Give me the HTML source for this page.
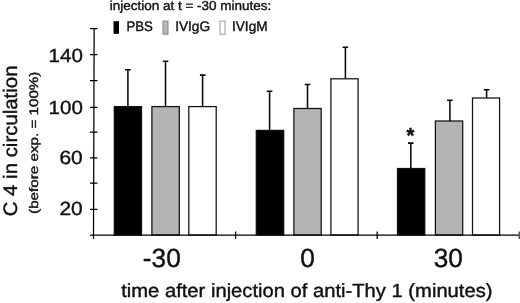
<!DOCTYPE html>
<html><head><meta charset="utf-8">
<style>
html,body{margin:0;padding:0;background:#fff;}
body{width:520px;height:303px;overflow:hidden;}
svg{display:block;will-change:transform;}
text{text-rendering:geometricPrecision;}
text{font-family:"Liberation Sans",Arial,Helvetica,sans-serif;fill:#111;stroke:#111;stroke-width:0.4px;}
</style></head><body>
<svg width="520" height="303" viewBox="0 0 520 303">

<!-- title & legend -->
<text x="109.7" y="10.1" font-size="13" textLength="161.7" lengthAdjust="spacingAndGlyphs" stroke-width="0.15">injection at t = -30 minutes:</text>
<rect x="113.5" y="21.2" width="5.5" height="12.6" fill="#000"/>
<text x="126.4" y="31" font-size="13.8" textLength="26.4" lengthAdjust="spacingAndGlyphs" stroke-width="0.15">PBS</text>
<rect x="163" y="21.1" width="5" height="13.1" fill="#b8b8b8" stroke="#888" stroke-width="1"/>
<text x="175.2" y="31" font-size="13.8" textLength="34.9" lengthAdjust="spacingAndGlyphs" stroke-width="0.15">IVIgG</text>
<rect x="220" y="21.1" width="5" height="13.1" fill="#fff" stroke="#999" stroke-width="1"/>
<text x="232" y="31" font-size="13.8" textLength="35.6" lengthAdjust="spacingAndGlyphs" stroke-width="0.15">IVIgM</text>
<!-- bars -->
<g stroke="#111" stroke-width="1.25">
<rect x="114.3" y="106.6" width="27.2" height="128.4" fill="#000"/>
<rect x="151.9" y="106.6" width="27.4" height="128.4" fill="#b4b4b4"/>
<rect x="188.8" y="106.6" width="27.4" height="128.4" fill="#fff"/>
<rect x="256.3" y="130.4" width="27.4" height="104.6" fill="#000"/>
<rect x="293.9" y="108.5" width="27.3" height="126.5" fill="#b4b4b4"/>
<rect x="330.9" y="78.8" width="27.2" height="156.2" fill="#fff"/>
<rect x="397.5" y="168.5" width="27.3" height="66.5" fill="#000"/>
<rect x="435.4" y="121" width="27.3" height="114" fill="#b4b4b4"/>
<rect x="472.5" y="98" width="27.1" height="137" fill="#fff"/>
</g>
<!-- error bars -->
<g stroke="#0a0a0a" stroke-width="1.55" fill="none">
<path d="M127.9 106V69.8M125.1 69.8h5.6"/>
<path d="M165.5 106V61.3M162.7 61.3h5.6"/>
<path d="M202.6 106V75.1M199.9 75.1h5.6"/>
<path d="M269.6 130V91.2M266.8 91.2h5.6"/>
<path d="M307.5 108V84.5M304.7 84.5h5.6"/>
<path d="M345.4 78.5V47.3M342.6 47.3h5.6"/>
<path d="M410.8 168V143.1M408.0 143.1h5.6"/>
<path d="M449.9 121V100.2M447.1 100.2h5.6"/>
<path d="M486.6 98V89.8M483.8 89.8h5.6"/>
</g>
<!-- axes -->
<g stroke="#000" stroke-width="1.25" fill="none">
<path d="M94.15 28.5L93.5 238.9"/>
<path d="M90 235.15H520"/>
<path d="M90 28.5h7.5M90 54.5h7.5M90 80.6h7.5M90 107.4h7.5M90 132.1h7.5M90 157.8h7.5M90 183h7.5M90 209.3h7.5"/>
<path d="M235.6 231.5v7.4M377.2 231.5v7.4"/>
<path d="M519.3 231.5v7.6" stroke="#555" stroke-width="1.6"/>
</g>
<!-- y tick labels -->
<g font-size="19" lengthAdjust="spacingAndGlyphs">
<text x="48.6" y="62" textLength="34.3" lengthAdjust="spacingAndGlyphs">140</text>
<text x="48.6" y="113.7" textLength="34.3" lengthAdjust="spacingAndGlyphs">100</text>
<text x="59.4" y="163.8" textLength="23.3" lengthAdjust="spacingAndGlyphs">60</text>
<text x="59.4" y="214.8" textLength="23.3" lengthAdjust="spacingAndGlyphs">20</text>
</g>
<!-- x tick labels -->
<g font-size="26.2" text-anchor="middle">
<text x="161.8" y="267.2">-30</text>
<text x="307.5" y="267.2">0</text>
<text x="448.3" y="267.2">30</text>
</g>
<text transform="translate(410.4,142.6) scale(1,1.1)" font-size="20" font-weight="bold" text-anchor="middle" stroke-width="0">*</text>
<text x="121.2" y="297.4" font-size="19" textLength="371.3" lengthAdjust="spacingAndGlyphs">time after injection of anti-Thy 1 (minutes)</text>
<text transform="translate(16.7,216.3) rotate(-90)" font-size="19.5" textLength="150.8" lengthAdjust="spacingAndGlyphs">C 4 in circulation</text>
<text transform="translate(38.4,213.9) rotate(-90)" font-size="12.4" stroke-width="0.15" textLength="142.3" lengthAdjust="spacingAndGlyphs">(before exp. = 100%)</text>
</svg>
</body></html>
